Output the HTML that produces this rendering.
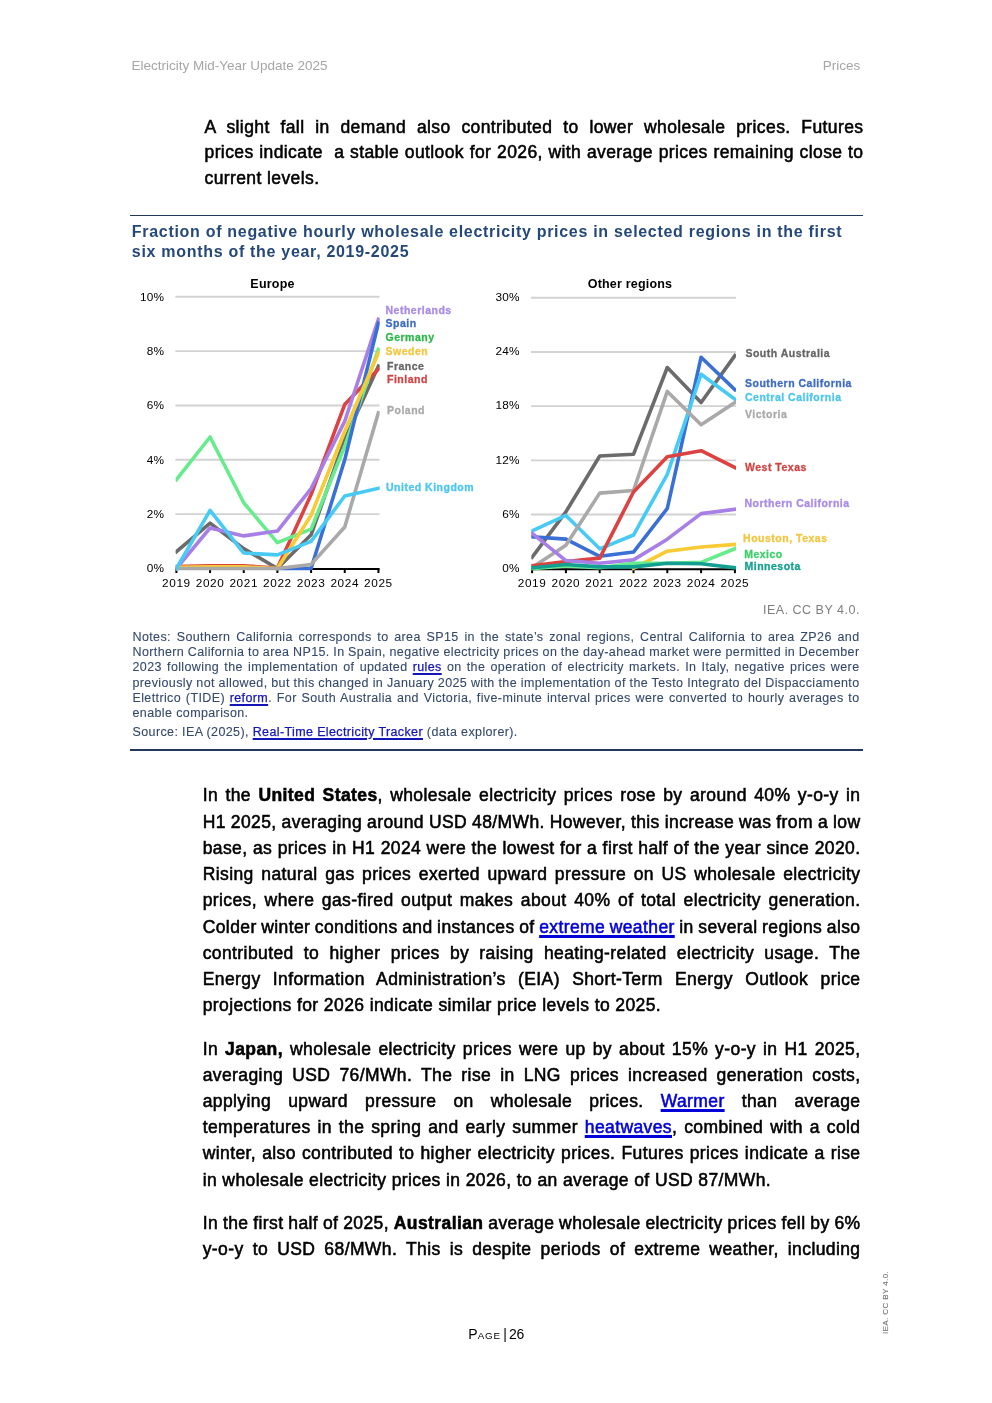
<!DOCTYPE html>
<html>
<head>
<meta charset="utf-8">
<style>
html,body{margin:0;padding:0;background:#fff;}
body{width:992px;height:1403px;position:relative;overflow:hidden;font-family:"Liberation Sans",sans-serif;will-change:transform;}
.chart{position:absolute;left:0;top:0;}
.abs{position:absolute;white-space:nowrap;}
.hdr{font-size:13.5px;color:#a6a6a6;letter-spacing:0;top:58px;line-height:16px;}
.body{position:absolute;font-size:17.5px;line-height:26.2px;color:#000;letter-spacing:0.4px;-webkit-text-stroke:0.55px #000;}
.body .l{text-align:justify;text-align-last:justify;white-space:nowrap;height:26.2px;word-spacing:-4px;}
.body .e{text-align:left;text-align-last:left;word-spacing:0;}
.body b{font-weight:bold;}
.p1,.p1 .l{line-height:25.9px;height:25.9px;}
.p2,.p2 .l{line-height:26.25px;height:26.25px;}
a{color:#0000d8;text-decoration:underline;}
.body a{-webkit-text-stroke-color:#0000d8;text-decoration-thickness:2.6px;text-underline-offset:2.2px;}
.rule{position:absolute;left:130px;width:732.5px;background:#23395b;}
.title{position:absolute;left:131.8px;top:221.6px;font-size:16px;font-weight:bold;color:#25487a;letter-spacing:0.7px;line-height:20px;}
.notes{position:absolute;left:132.5px;width:727px;font-size:12.5px;line-height:15.18px;color:#34496c;letter-spacing:0.38px;-webkit-text-stroke:0.1px #34496c;}
.notes .l{text-align:justify;text-align-last:justify;white-space:nowrap;height:15.18px;word-spacing:-3px;}
.notes .e{text-align:left;text-align-last:left;word-spacing:0;}
.notes a{color:#1414b8;text-decoration-thickness:1.6px;text-underline-offset:1.5px;-webkit-text-stroke:0.25px #1414b8;}
</style>
</head>
<body>
<div class="abs hdr" style="left:131.5px;">Electricity Mid-Year Update 2025</div>
<div class="abs hdr" style="left:822.8px;">Prices</div>

<div class="body p1" style="left:204.5px;top:114.6px;width:659px;">
<div class="l">A slight fall in demand also contributed to lower wholesale prices. Futures</div>
<div class="l">prices indicate&nbsp; a stable outlook for 2026, with average prices remaining close to</div>
<div class="l e">current levels.</div>
</div>

<div class="rule" style="top:214.5px;height:1.3px;"></div>
<div class="title">Fraction of negative hourly wholesale electricity prices in selected regions in the first<br>six months of the year, 2019-2025</div>

<svg class="chart" width="992" height="1403" viewBox="0 0 992 1403"><line x1="175.4" y1="514.16" x2="379.5" y2="514.16" stroke="#d2d2d2" stroke-width="1.9"/>
<line x1="175.4" y1="459.82" x2="379.5" y2="459.82" stroke="#d2d2d2" stroke-width="1.9"/>
<line x1="175.4" y1="405.48" x2="379.5" y2="405.48" stroke="#d2d2d2" stroke-width="1.9"/>
<line x1="175.4" y1="351.14" x2="379.5" y2="351.14" stroke="#d2d2d2" stroke-width="1.9"/>
<line x1="175.4" y1="296.80" x2="379.5" y2="296.80" stroke="#d2d2d2" stroke-width="1.9"/>
<line x1="531" y1="514.52" x2="736" y2="514.52" stroke="#d2d2d2" stroke-width="1.9"/>
<line x1="531" y1="460.34" x2="736" y2="460.34" stroke="#d2d2d2" stroke-width="1.9"/>
<line x1="531" y1="406.16" x2="736" y2="406.16" stroke="#d2d2d2" stroke-width="1.9"/>
<line x1="531" y1="351.98" x2="736" y2="351.98" stroke="#d2d2d2" stroke-width="1.9"/>
<line x1="531" y1="297.80" x2="736" y2="297.80" stroke="#d2d2d2" stroke-width="1.9"/>
<line x1="175.4" y1="569.00" x2="379.5" y2="569.00" stroke="#000" stroke-width="2"/>
<line x1="531" y1="569.20" x2="736" y2="569.20" stroke="#000" stroke-width="2"/>
<line x1="176.40" y1="568.50" x2="176.40" y2="573.00" stroke="#000" stroke-width="2"/>
<line x1="532.10" y1="568.70" x2="532.10" y2="573.20" stroke="#000" stroke-width="2"/>
<line x1="210.07" y1="568.50" x2="210.07" y2="573.00" stroke="#000" stroke-width="2"/>
<line x1="565.90" y1="568.70" x2="565.90" y2="573.20" stroke="#000" stroke-width="2"/>
<line x1="243.74" y1="568.50" x2="243.74" y2="573.00" stroke="#000" stroke-width="2"/>
<line x1="599.70" y1="568.70" x2="599.70" y2="573.20" stroke="#000" stroke-width="2"/>
<line x1="277.41" y1="568.50" x2="277.41" y2="573.00" stroke="#000" stroke-width="2"/>
<line x1="633.50" y1="568.70" x2="633.50" y2="573.20" stroke="#000" stroke-width="2"/>
<line x1="311.08" y1="568.50" x2="311.08" y2="573.00" stroke="#000" stroke-width="2"/>
<line x1="667.30" y1="568.70" x2="667.30" y2="573.20" stroke="#000" stroke-width="2"/>
<line x1="344.75" y1="568.50" x2="344.75" y2="573.00" stroke="#000" stroke-width="2"/>
<line x1="701.10" y1="568.70" x2="701.10" y2="573.20" stroke="#000" stroke-width="2"/>
<line x1="378.42" y1="568.50" x2="378.42" y2="573.00" stroke="#000" stroke-width="2"/>
<line x1="734.90" y1="568.70" x2="734.90" y2="573.20" stroke="#000" stroke-width="2"/>
<defs><clipPath id="ce"><rect x="175.6" y="280" width="104.1" height="300"/><rect x="175.6" y="280" width="204.1" height="300"/></clipPath><clipPath id="co"><rect x="531.3" y="280" width="204.7" height="300"/></clipPath></defs>
<g clip-path="url(#ce)">
<polyline points="176.40,551.65 210.07,523.13 243.74,548.67 277.41,568.50 311.08,534.81 344.75,439.44 378.42,366.08" fill="none" stroke="#6b6b6b" stroke-width="3.6" stroke-linejoin="round" stroke-linecap="square"/>
<polyline points="176.40,566.60 210.07,565.78 243.74,565.78 277.41,567.96 311.08,494.60 344.75,404.39 378.42,369.07" fill="none" stroke="#dc4242" stroke-width="3.6" stroke-linejoin="round" stroke-linecap="square"/>
<polyline points="176.40,479.65 210.07,437.00 243.74,502.75 277.41,542.69 311.08,529.10 344.75,446.24 378.42,349.24" fill="none" stroke="#66ec8c" stroke-width="3.6" stroke-linejoin="round" stroke-linecap="square"/>
<polyline points="176.40,568.50 210.07,528.02 243.74,535.90 277.41,531.01 311.08,488.62 344.75,421.24 378.42,319.35" fill="none" stroke="#a77fe6" stroke-width="3.6" stroke-linejoin="round" stroke-linecap="square"/>
<polyline points="277.41,568.50 311.08,568.50 344.75,459.82 378.42,323.15" fill="none" stroke="#3a6fd6" stroke-width="3.6" stroke-linejoin="round" stroke-linecap="square"/>
<polyline points="176.40,567.41 210.07,566.87 243.74,566.87 277.41,568.50 311.08,515.25 344.75,431.29 378.42,352.77" fill="none" stroke="#f8cb34" stroke-width="3.6" stroke-linejoin="round" stroke-linecap="square"/>
<polyline points="176.40,568.50 210.07,568.50 243.74,568.50 277.41,568.50 311.08,564.42 344.75,526.93 378.42,412.82" fill="none" stroke="#a9a9a9" stroke-width="3.6" stroke-linejoin="round" stroke-linecap="square"/>
<polyline points="176.40,568.50 210.07,510.36 243.74,553.01 277.41,554.91 311.08,541.33 344.75,495.96 378.42,488.35" fill="none" stroke="#47cbf4" stroke-width="3.6" stroke-linejoin="round" stroke-linecap="square"/>
</g><g clip-path="url(#co)">
<polyline points="532.10,557.23 565.90,511.81 599.70,456.01 633.50,454.29 667.30,367.51 701.10,402.55 734.90,355.59" fill="none" stroke="#6b6b6b" stroke-width="3.6" stroke-linejoin="round" stroke-linecap="square"/>
<polyline points="532.10,536.73 565.90,539.17 599.70,556.33 633.50,552.08 667.30,508.47 701.10,357.22 734.90,389.73" fill="none" stroke="#3a6fd6" stroke-width="3.6" stroke-linejoin="round" stroke-linecap="square"/>
<polyline points="532.10,530.77 565.90,515.42 599.70,548.83 633.50,535.02 667.30,474.34 701.10,374.28 734.90,399.12" fill="none" stroke="#47cbf4" stroke-width="3.6" stroke-linejoin="round" stroke-linecap="square"/>
<polyline points="532.10,567.53 565.90,545.22 599.70,493.12 633.50,490.50 667.30,391.44 701.10,424.67 734.90,402.55" fill="none" stroke="#a9a9a9" stroke-width="3.6" stroke-linejoin="round" stroke-linecap="square"/>
<polyline points="532.10,565.72 565.90,561.48 599.70,558.13 633.50,491.95 667.30,456.73 701.10,450.68 734.90,467.56" fill="none" stroke="#dc4242" stroke-width="3.6" stroke-linejoin="round" stroke-linecap="square"/>
<polyline points="532.10,533.30 565.90,560.57 599.70,563.28 633.50,559.85 667.30,539.17 701.10,513.62 734.90,509.28" fill="none" stroke="#a77fe6" stroke-width="3.6" stroke-linejoin="round" stroke-linecap="square"/>
<polyline points="633.50,568.25 667.30,551.18 701.10,546.94 734.90,544.41" fill="none" stroke="#f8cb34" stroke-width="3.6" stroke-linejoin="round" stroke-linecap="square"/>
<polyline points="532.10,568.70 565.90,565.99 599.70,567.80 633.50,563.28 667.30,563.28 701.10,562.38 734.90,548.65" fill="none" stroke="#66ec8c" stroke-width="3.6" stroke-linejoin="round" stroke-linecap="square"/>
<polyline points="532.10,567.80 565.90,564.46 599.70,566.89 633.50,566.89 667.30,563.28 701.10,563.73 734.90,567.80" fill="none" stroke="#13a090" stroke-width="3.6" stroke-linejoin="round" stroke-linecap="square"/>
</g>
<text x="164.3" y="572.40" text-anchor="end" font-family="Liberation Sans" font-size="11.8" fill="#000" letter-spacing="0.2">0%</text>
<text x="519.8" y="571.90" text-anchor="end" font-family="Liberation Sans" font-size="11.8" fill="#000" letter-spacing="0.2">0%</text>
<text x="164.3" y="518.06" text-anchor="end" font-family="Liberation Sans" font-size="11.8" fill="#000" letter-spacing="0.2">2%</text>
<text x="519.8" y="517.72" text-anchor="end" font-family="Liberation Sans" font-size="11.8" fill="#000" letter-spacing="0.2">6%</text>
<text x="164.3" y="463.72" text-anchor="end" font-family="Liberation Sans" font-size="11.8" fill="#000" letter-spacing="0.2">4%</text>
<text x="519.8" y="463.54" text-anchor="end" font-family="Liberation Sans" font-size="11.8" fill="#000" letter-spacing="0.2">12%</text>
<text x="164.3" y="409.38" text-anchor="end" font-family="Liberation Sans" font-size="11.8" fill="#000" letter-spacing="0.2">6%</text>
<text x="519.8" y="409.36" text-anchor="end" font-family="Liberation Sans" font-size="11.8" fill="#000" letter-spacing="0.2">18%</text>
<text x="164.3" y="355.04" text-anchor="end" font-family="Liberation Sans" font-size="11.8" fill="#000" letter-spacing="0.2">8%</text>
<text x="519.8" y="355.18" text-anchor="end" font-family="Liberation Sans" font-size="11.8" fill="#000" letter-spacing="0.2">24%</text>
<text x="164.3" y="300.70" text-anchor="end" font-family="Liberation Sans" font-size="11.8" fill="#000" letter-spacing="0.2">10%</text>
<text x="519.8" y="301.00" text-anchor="end" font-family="Liberation Sans" font-size="11.8" fill="#000" letter-spacing="0.2">30%</text>
<text x="176.40" y="586.5" text-anchor="middle" font-family="Liberation Sans" font-size="11.8" fill="#000" letter-spacing="0.6">2019</text>
<text x="532.10" y="586.5" text-anchor="middle" font-family="Liberation Sans" font-size="11.8" fill="#000" letter-spacing="0.6">2019</text>
<text x="210.07" y="586.5" text-anchor="middle" font-family="Liberation Sans" font-size="11.8" fill="#000" letter-spacing="0.6">2020</text>
<text x="565.90" y="586.5" text-anchor="middle" font-family="Liberation Sans" font-size="11.8" fill="#000" letter-spacing="0.6">2020</text>
<text x="243.74" y="586.5" text-anchor="middle" font-family="Liberation Sans" font-size="11.8" fill="#000" letter-spacing="0.6">2021</text>
<text x="599.70" y="586.5" text-anchor="middle" font-family="Liberation Sans" font-size="11.8" fill="#000" letter-spacing="0.6">2021</text>
<text x="277.41" y="586.5" text-anchor="middle" font-family="Liberation Sans" font-size="11.8" fill="#000" letter-spacing="0.6">2022</text>
<text x="633.50" y="586.5" text-anchor="middle" font-family="Liberation Sans" font-size="11.8" fill="#000" letter-spacing="0.6">2022</text>
<text x="311.08" y="586.5" text-anchor="middle" font-family="Liberation Sans" font-size="11.8" fill="#000" letter-spacing="0.6">2023</text>
<text x="667.30" y="586.5" text-anchor="middle" font-family="Liberation Sans" font-size="11.8" fill="#000" letter-spacing="0.6">2023</text>
<text x="344.75" y="586.5" text-anchor="middle" font-family="Liberation Sans" font-size="11.8" fill="#000" letter-spacing="0.6">2024</text>
<text x="701.10" y="586.5" text-anchor="middle" font-family="Liberation Sans" font-size="11.8" fill="#000" letter-spacing="0.6">2024</text>
<text x="378.42" y="586.5" text-anchor="middle" font-family="Liberation Sans" font-size="11.8" fill="#000" letter-spacing="0.6">2025</text>
<text x="734.90" y="586.5" text-anchor="middle" font-family="Liberation Sans" font-size="11.8" fill="#000" letter-spacing="0.6">2025</text>
<text x="272.5" y="288" text-anchor="middle" font-family="Liberation Sans" font-size="12.5" font-weight="bold" letter-spacing="0.2" fill="#000">Europe</text>
<text x="630" y="288" text-anchor="middle" font-family="Liberation Sans" font-size="12.5" font-weight="bold" letter-spacing="0.2" fill="#000">Other regions</text>
<text x="385.5" y="313.9" font-family="Liberation Sans" font-size="10.5" font-weight="bold" letter-spacing="0.5" fill="#a98be6" stroke="#a98be6" stroke-width="0.3">Netherlands</text>
<text x="385.5" y="326.6" font-family="Liberation Sans" font-size="10.5" font-weight="bold" letter-spacing="0.5" fill="#3d6cc2" stroke="#3d6cc2" stroke-width="0.3">Spain</text>
<text x="385.5" y="340.5" font-family="Liberation Sans" font-size="10.5" font-weight="bold" letter-spacing="0.5" fill="#2db84c" stroke="#2db84c" stroke-width="0.3">Germany</text>
<text x="385.5" y="355.2" font-family="Liberation Sans" font-size="10.5" font-weight="bold" letter-spacing="0.5" fill="#f3c640" stroke="#f3c640" stroke-width="0.3">Sweden</text>
<text x="387" y="370.2" font-family="Liberation Sans" font-size="10.5" font-weight="bold" letter-spacing="0.5" fill="#666666" stroke="#666666" stroke-width="0.3">France</text>
<text x="387" y="382.6" font-family="Liberation Sans" font-size="10.5" font-weight="bold" letter-spacing="0.5" fill="#d04545" stroke="#d04545" stroke-width="0.3">Finland</text>
<text x="387" y="413.6" font-family="Liberation Sans" font-size="10.5" font-weight="bold" letter-spacing="0.5" fill="#aaaaaa" stroke="#aaaaaa" stroke-width="0.3">Poland</text>
<text x="386" y="490.8" font-family="Liberation Sans" font-size="10.5" font-weight="bold" letter-spacing="0.5" fill="#4cc6ef" stroke="#4cc6ef" stroke-width="0.3">United Kingdom</text>
<text x="745.4" y="357.4" font-family="Liberation Sans" font-size="10.5" font-weight="bold" letter-spacing="0.5" fill="#666666" stroke="#666666" stroke-width="0.3">South Australia</text>
<text x="745" y="387.4" font-family="Liberation Sans" font-size="10.5" font-weight="bold" letter-spacing="0.5" fill="#3d6cc2" stroke="#3d6cc2" stroke-width="0.3">Southern California</text>
<text x="745" y="400.5" font-family="Liberation Sans" font-size="10.5" font-weight="bold" letter-spacing="0.5" fill="#4cc6ef" stroke="#4cc6ef" stroke-width="0.3">Central California</text>
<text x="745" y="418.4" font-family="Liberation Sans" font-size="10.5" font-weight="bold" letter-spacing="0.5" fill="#aaaaaa" stroke="#aaaaaa" stroke-width="0.3">Victoria</text>
<text x="745" y="470.6" font-family="Liberation Sans" font-size="10.5" font-weight="bold" letter-spacing="0.5" fill="#d04545" stroke="#d04545" stroke-width="0.3">West Texas</text>
<text x="744.4" y="506.8" font-family="Liberation Sans" font-size="10.5" font-weight="bold" letter-spacing="0.5" fill="#a98be6" stroke="#a98be6" stroke-width="0.3">Northern California</text>
<text x="743.1" y="541.8" font-family="Liberation Sans" font-size="10.5" font-weight="bold" letter-spacing="0.5" fill="#f3c640" stroke="#f3c640" stroke-width="0.3">Houston, Texas</text>
<text x="744.2" y="557.5" font-family="Liberation Sans" font-size="10.5" font-weight="bold" letter-spacing="0.5" fill="#3dd06a" stroke="#3dd06a" stroke-width="0.3">Mexico</text>
<text x="744.5" y="570.2" font-family="Liberation Sans" font-size="10.5" font-weight="bold" letter-spacing="0.5" fill="#16a08f" stroke="#16a08f" stroke-width="0.3">Minnesota</text></svg>

<div class="abs" style="left:763px;top:603.2px;font-size:12.5px;line-height:15px;color:#7f7f7f;letter-spacing:0.5px;">IEA. CC BY 4.0.</div>

<div class="notes" style="top:630px;">
<div class="l">Notes: Southern California corresponds to area SP15 in the state’s zonal regions, Central California to area ZP26 and</div>
<div class="l">Northern California to area NP15. In Spain, negative electricity prices on the day-ahead market were permitted in December</div>
<div class="l">2023 following the implementation of updated <a>rules</a> on the operation of electricity markets. In Italy, negative prices were</div>
<div class="l">previously not allowed, but this changed in January 2025 with the implementation of the Testo Integrato del Dispacciamento</div>
<div class="l">Elettrico (TIDE) <a>reform</a>. For South Australia and Victoria, five-minute interval prices were converted to hourly averages to</div>
<div class="l e">enable comparison.</div>
<div class="l e" style="margin-top:3.6px;">Source: IEA (2025), <a>Real-Time Electricity Tracker</a> (data explorer).</div>
</div>

<div class="rule" style="top:748.9px;height:2.1px;"></div>

<div class="body p2" style="left:202.7px;top:782.3px;width:657.8px;">
<div class="l">In the <b>United States</b>, wholesale electricity prices rose by around 40% y-o-y in</div>
<div class="l">H1 2025, averaging around USD 48/MWh. However, this increase was from a low</div>
<div class="l">base, as prices in H1 2024 were the lowest for a first half of the year since 2020.</div>
<div class="l">Rising natural gas prices exerted upward pressure on US wholesale electricity</div>
<div class="l">prices, where gas-fired output makes about 40% of total electricity generation.</div>
<div class="l">Colder winter conditions and instances of <a>extreme weather</a> in several regions also</div>
<div class="l">contributed to higher prices by raising heating-related electricity usage. The</div>
<div class="l">Energy Information Administration’s (EIA) Short-Term Energy Outlook price</div>
<div class="l e">projections for 2026 indicate similar price levels to 2025.</div>
</div>

<div class="body" style="left:202.7px;top:1035.69px;width:657.8px;">
<div class="l">In <b>Japan,</b> wholesale electricity prices were up by about 15% y-o-y in H1 2025,</div>
<div class="l">averaging USD 76/MWh. The rise in LNG prices increased generation costs,</div>
<div class="l">applying upward pressure on wholesale prices. <a>Warmer</a> than average</div>
<div class="l">temperatures in the spring and early summer <a>heatwaves</a>, combined with a cold</div>
<div class="l">winter, also contributed to higher electricity prices. Futures prices indicate a rise</div>
<div class="l e">in wholesale electricity prices in 2026, to an average of USD 87/MWh.</div>
</div>

<div class="body" style="left:202.7px;top:1209.59px;width:657.8px;">
<div class="l">In the first half of 2025, <b>Australian</b> average wholesale electricity prices fell by 6%</div>
<div class="l">y-o-y to USD 68/MWh. This is despite periods of extreme weather, including</div>
</div>

<div class="abs" style="left:468.3px;top:1325px;font-size:14px;line-height:18px;color:#000;word-spacing:-1.7px;">P<span style="font-size:9.8px;letter-spacing:0.9px;">AGE</span> | <span style="letter-spacing:-0.4px;">26</span></div>

<div class="abs" style="left:881.2px;top:1333.7px;transform-origin:0 0;transform:rotate(-90deg);font-size:8.1px;line-height:10px;color:#7a7a7a;letter-spacing:0.35px;-webkit-text-stroke:0.15px #7a7a7a;">IEA. CC BY 4.0.</div>

</body>
</html>
